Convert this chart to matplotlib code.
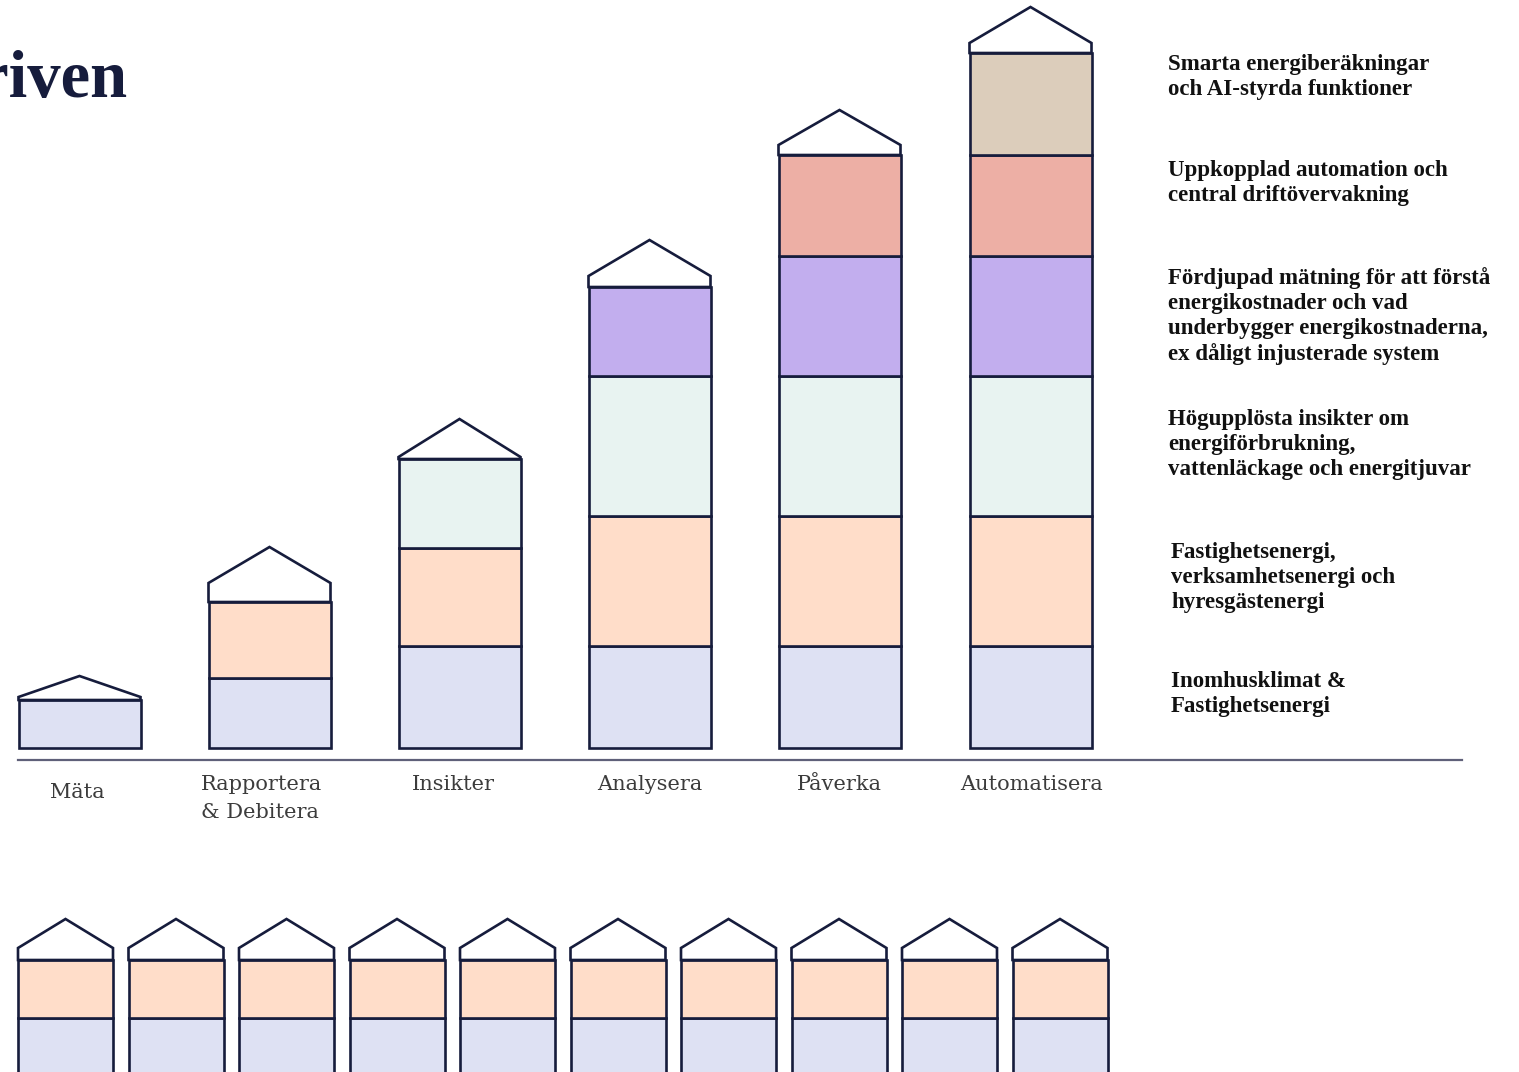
import numpy as np
import matplotlib.pyplot as plt

# stages along the x axis, each stacked from the bottom layer upwards
stages = ["Mäta", "Rapportera\n& Debitera", "Insikter", "Analysera", "Påverka", "Automatisera"]
layer_heights = [
    [48],
    [70, 76],
    [102, 98, 89],
    [102, 130, 140, 89],
    [102, 130, 140, 120, 101],
    [102, 130, 140, 120, 101, 102],
]
layer_labels = [
    "Inomhusklimat &\nFastighetsenergi",
    "Fastighetsenergi,\nverksamhetsenergi och\nhyresgästenergi",
    "Högupplösta insikter om\nenergiförbrukning,\nvattenläckage och energitjuvar",
    "Fördjupad mätning för att förstå\nenergikostnader och vad\nunderbygger energikostnaderna,\nex dåligt injusterade system",
    "Uppkopplad automation och\ncentral driftövervakning",
    "Smarta energiberäkningar\noch AI-styrda funktioner",
]
layer_colors = ["#DEE1F3", "#FFDDC9", "#E8F3F1", "#C2AEEE", "#EDAFA5", "#DCCDBB"]

# row of small houses along the bottom
n_small = 10
small_layers = [62, 58]

NAVY = "#161C3C"
W, H = 1519, 1072

fig = plt.figure(figsize=(W / 100, H / 100), dpi=100)
ax = fig.add_axes([0, 0, 1, 1])
ax.set_xlim(0, W)
ax.set_ylim(0, H)
ax.axis("off")


def py(p):
    # pixel row (from top) -> axis y
    return H - p


def house(x, bottom, heights, width, rise, wall, lw=1.9):
    base = bottom
    for h, c in zip(heights, layer_colors):
        ax.bar(x, h, bottom=base, width=width, color=c, edgecolor=NAVY,
               linewidth=lw, zorder=2)
        base += h
    left, right = x - width / 2, x + width / 2
    xs = [left, left, x, right, right]
    ys = [base, base + wall, base + rise, base + wall, base]
    ax.fill(xs, ys, facecolor="white", edgecolor=NAVY, lw=lw,
            joinstyle="miter", zorder=3)


centers = [79.5, 269.5, 459.5, 649.5, 839.5, 1030.5]
rises = [24, 55, 40, 47, 45, 46]
walls = [3, 19, 2, 11, 10, 10]
baseline = py(748)
for x, hs, r, w in zip(centers, layer_heights, rises, walls):
    house(x, baseline, hs, 122, r, w)

# ground line
ax.plot([18, 1462], [py(760), py(760)], color="#5F6079", lw=1.6, zorder=1)

# stage labels
label_pos = [(77, 783), (262, 775), (453, 775), (650, 775), (839, 775), (1032, 775)]
for (lx, ly), s in zip(label_pos, stages):
    ax.text(lx, py(ly), s, ha="center", va="top", multialignment="left",
            fontsize=15, family="DejaVu Serif", color="#3C3C3C",
            linespacing=1.6)

# layer descriptions on the right
desc_pos = [(1171, 671), (1171, 542), (1168, 409), (1168, 267), (1168, 160), (1168, 54)]
for (tx, ty), s in zip(desc_pos, layer_labels):
    ax.text(tx, py(ty), s, ha="left", va="top", fontsize=16.5,
            family="Liberation Serif", fontweight="bold", color="#111111",
            linespacing=1.25)

# title, running off the left edge
ax.text(127, py(97), "driven", ha="right", va="baseline", fontsize=48,
        family="Liberation Serif", fontweight="bold", color=NAVY)

small_x = 65.5 + 110.5 * np.arange(n_small)
for x in small_x:
    house(x, py(1080), small_layers, 95, 41, 12)

fig.savefig("out.png", dpi=100)
